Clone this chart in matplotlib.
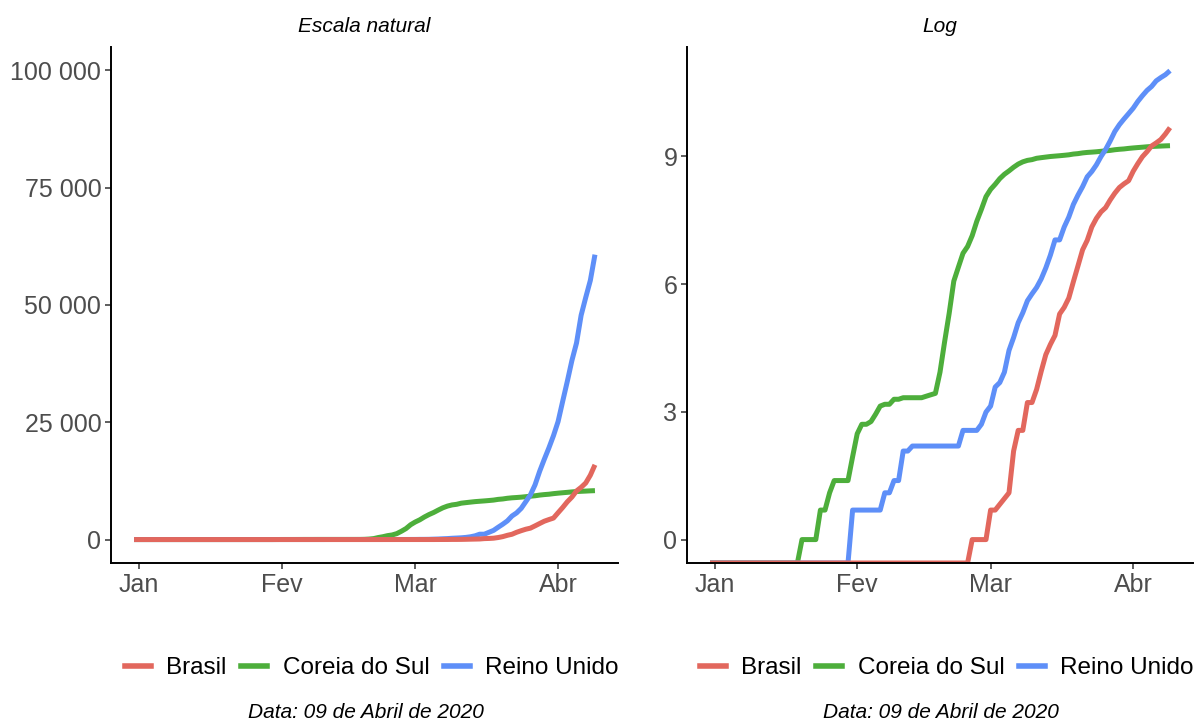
import numpy as np
import pandas as pd
import matplotlib
matplotlib.use("Agg")
import matplotlib.pyplot as plt
import matplotlib.dates as mdates
from matplotlib.lines import Line2D

plt.rcParams['font.family'] = ['Liberation Sans', 'DejaVu Sans']

# daily cumulative cases, 31/12/2019 .. 09/04/2020 (None = no reading that day)
start_date = "2019-12-31"
end_date = "2020-04-09"

brasil = [
    0, 0, 0, 0, 0, 0, 0, 0, 0, 0,
    0, 0, 0, 0, 0, 0, 0, 0, 0, 0,
    0, 0, 0, 0, 0, 0, 0, 0, 0, 0,
    0, 0, 0, 0, 0, 0, 0, 0, 0, 0,
    0, 0, 0, 0, 0, 0, 0, 0, 0, 0,
    0, 0, 0, 0, 0, 0, 0, 1, 1, 1,
    1, 2, 2, None, None, 3, 8, 13, 13, 25,
    25, 34, 52, 77, 98, 121, 200, 234, 291, 428,
    621, 904, 1128, 1546, 1891, 2201, 2433, 2915, 3417, 3904,
    4256, 4579, 5717, 6836, 8044, 9056, 10360, 11130, 12056, 13717,
    15927,
]

coreia = [
    0, 0, 0, 0, 0, 0, 0, 0, 0, 0,
    0, 0, 0, 0, 0, 0, 0, 0, 0, 0,
    1, 1, 1, 1, 2, 2, 3, 4, 4, 4,
    4, 7, 12, 15, 15, 16, 19, 23, 24, 24,
    27, 27, 28, 28, 28, 28, 28, 29, 30, 31,
    51, 104, 204, 433, 602, 833, 977, 1261, 1766, 2337,
    3150, 3736, 4212, 4812, 5328, 5766, 6284, 6767, 7134, 7382,
    7513, 7755, 7869, 7979, 8086, 8162, 8236, 8320, 8413, 8565,
    8652, 8799, 8897, 8961, 9037, 9137, 9241, 9332, 9478, 9583,
    9661, 9786, 9887, 9976, 10062, 10156, 10237, 10284, 10331, 10384,
    10423,
]

reino_unido = [
    0, 0, 0, 0, 0, 0, 0, 0, 0, 0,
    0, 0, 0, 0, 0, 0, 0, 0, 0, 0,
    0, 0, 0, 0, 0, 0, 0, 0, 0, 0,
    0, 2, 2, 2, 2, 2, 2, 2, 3, 3,
    4, 4, 8, 8, 9, 9, 9, 9, 9, 9,
    9, 9, 9, 9, 9, 13, 13, 13, 13, 15,
    20, 23, 36, 40, 51, 85, 115, 163, 206, 273,
    321, 373, 456, 590, 798, 1140, 1140, 1543, 1950, 2626,
    3269, 3983, 5018, 5683, 6650, 8077, 9529, 11658, 14543, 17089,
    19522, 22141, 25150, 29474, 33718, 38168, 41903, 47806, 51608, 55242,
    60733,
]

paises = ["Brasil", "Coreia do Sul", "Reino Unido"]
cores = {"Brasil": "#E2675D", "Coreia do Sul": "#4DAE3B", "Reino Unido": "#5E8FF8"}
series = {"Brasil": brasil, "Coreia do Sul": coreia, "Reino Unido": reino_unido}
ordem_desenho = ["Coreia do Sul", "Reino Unido", "Brasil"]

meses = ["Jan", "Fev", "Mar", "Abr"]
mes_ticks = pd.to_datetime(["2020-01-01", "2020-02-01", "2020-03-01", "2020-04-01"])
natural_ticks = [0, 25000, 50000, 75000, 100000]
log_ticks = [0, 3, 6, 9]
legenda_data = "Data: 09 de Abril de 2020"

datas = pd.date_range(start_date, end_date, freq="D")

fig = plt.figure(figsize=(12, 7.2), dpi=100)
ax1 = fig.add_axes([111 / 1200, 1 - 563 / 720, 507 / 1200, 516 / 720])
ax2 = fig.add_axes([687 / 1200, 1 - 563 / 720, 506 / 1200, 516 / 720])

log_min, log_max = -0.55, 11.57

for nome in ordem_desenho:
    v = np.array([np.nan if x is None else x for x in series[nome]], dtype=float)
    ok = ~np.isnan(v)
    ax1.plot(datas[ok], v[ok], color=cores[nome], lw=3.6, solid_capstyle="butt")
    with np.errstate(divide="ignore"):
        lv = np.log(v[ok])
    lv[np.isinf(lv)] = log_min  # log(0) goes to the panel edge
    ax2.plot(datas[ok], lv, color=cores[nome], lw=3.6, solid_capstyle="butt")

ax1.set_ylim(-5000, 105000)
ax1.set_yticks(natural_ticks)
ax1.set_yticklabels([f"{t:,}".replace(",", " ") for t in natural_ticks])
ax2.set_ylim(log_min, log_max)
ax2.set_yticks(log_ticks)
ax2.set_yticklabels([str(t) for t in log_ticks])

for ax, titulo, leg_x, cap_x in [(ax1, "Escala natural", 372, 366),
                                 (ax2, "Log", 947, 941)]:
    ax.set_xlim(pd.Timestamp("2019-12-26"), pd.Timestamp("2020-04-14"))
    ax.set_xticks(mes_ticks)
    ax.set_xticklabels(meses)
    for s in ["top", "right"]:
        ax.spines[s].set_visible(False)
    for s in ["left", "bottom"]:
        ax.spines[s].set_linewidth(1.4)
        ax.spines[s].set_color("black")
    ax.tick_params(direction="out", length=4, width=1.1, color="#333333",
                   labelsize=18, labelcolor="#4D4D4D", pad=3)
    ax.set_title(titulo, fontsize=15, style="italic", pad=11)
    handles = [Line2D([0], [0], color=cores[p], lw=4) for p in paises]
    ax.legend(handles, paises, loc="center", ncol=3, frameon=False,
              bbox_to_anchor=(leg_x / 1200, 1 - 668 / 720),
              bbox_transform=fig.transFigure, fontsize=17.5,
              handlelength=1.05, handletextpad=0.65, columnspacing=0.6)
    fig.text(cap_x / 1200, 1 - 712 / 720, legenda_data, ha="center",
             va="center", fontsize=15, style="italic")

fig.savefig("out.png", dpi=100)
